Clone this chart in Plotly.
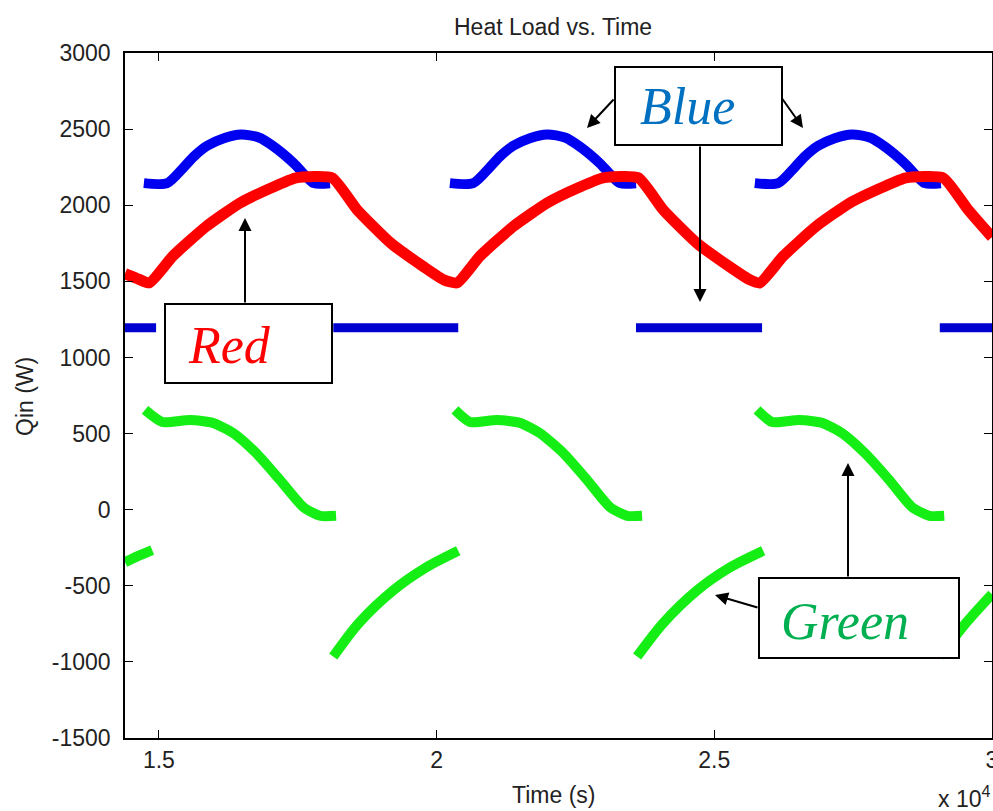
import plotly.graph_objects as go

# ---------------- data ----------------
x_tick_vals = [15000, 20000, 25000, 30000]
x_tick_text = ["1.5", "2", "2.5", "3"]
y_tick_vals = [-1500, -1000, -500, 0, 500, 1000, 1500, 2000, 2500, 3000]
y_tick_text = ["-1500", "-1000", "-500", "0", "500", "1000", "1500", "2000", "2500", "3000"]

# Blue (upper arcs)
blue_up_t1 = [14730, 15150, 15450, 15630, 15870, 16170, 16480, 16800, 17070, 17430, 17650, 17790, 18080]
blue_up_t2 = [20240, 20660, 20960, 21140, 21380, 21680, 21990, 22310, 22580, 22940, 23160, 23300, 23590]
blue_up_t3 = [25730, 26150, 26450, 26630, 26870, 27170, 27480, 27800, 28070, 28430, 28650, 28790, 29080]
blue_up_q = [2145, 2145, 2250, 2320, 2390, 2440, 2465, 2445, 2385, 2275, 2190, 2145, 2145]

# Blue (lower flat segments)
blue_lo_t = [[14390, 14950], [18140, 20390], [23590, 25860], [29060, 30000]]
blue_lo_q = [[1195, 1195], [1195, 1195], [1195, 1195], [1195, 1195]]

# Red (continuous)
red_t = [14390, 14600, 14830, 15250, 15850, 16460, 17060, 17470, 18120, 18570, 19180, 19770,
         20130, 20370, 20780, 21380, 21990, 22580, 23000, 23630, 24080, 24690, 25280, 25640,
         25820, 26240, 26830, 27440, 28040, 28450, 29120, 29570, 30000]
red_q = [1550, 1520, 1490, 1665, 1860, 2015, 2120, 2180, 2180, 1970, 1750, 1595,
         1510, 1490, 1665, 1860, 2015, 2120, 2180, 2180, 1970, 1750, 1595, 1510,
         1490, 1665, 1860, 2015, 2120, 2180, 2180, 1970, 1790]

# Green (upper arcs)
green_up_t1 = [14750, 15060, 15560, 15970, 16340, 16750, 17180, 17600, 17900, 18190]
green_up_t2 = [20330, 20600, 21090, 21500, 21860, 22280, 22710, 23120, 23430, 23700]
green_up_t3 = [25770, 26040, 26530, 26940, 27300, 27710, 28150, 28560, 28870, 29140]
green_up_q = [655, 576, 589, 570, 503, 372, 195, 17, -40, -40]

# Green (lower arcs)
green_lo_t0 = [14390, 14620, 14880]
green_lo_q0 = [-345, -305, -265]
green_lo_t1 = [18140, 18600, 19220, 19810, 20390]
green_lo_t2 = [23610, 24080, 24690, 25280, 25880]
green_lo_q = [-965, -745, -530, -380, -270]
green_lo_t3 = [29060, 29530, 30000]
green_lo_q3 = [-965, -745, -555]

# ---------------- figure ----------------
W, H = 993, 811
L, R, T, B = 125, 1, 53, 73
PW, PH = W - L - R, H - T - B


def px(x):
    return (x - L) / PW


def py(y):
    return (H - B - y) / PH


def join(segs_t, segs_q):
    xs, ys = [], []
    for t, q in zip(segs_t, segs_q):
        xs += list(t) + [None]
        ys += list(q) + [None]
    return xs, ys


BLUE = "#0000f0"
RED = "#ff0000"
GREEN = "#14ee14"

fig = go.Figure()

bx, by = join([blue_up_t1, blue_up_t2, blue_up_t3], [blue_up_q] * 3)
fig.add_trace(go.Scatter(x=bx, y=by, mode="lines", hoverinfo="skip",
                         line=dict(color=BLUE, width=10, shape="spline", smoothing=0.7)))
bx, by = join(blue_lo_t, blue_lo_q)
fig.add_trace(go.Scatter(x=bx, y=by, mode="lines", hoverinfo="skip",
                         line=dict(color="#0000d0", width=9)))
fig.add_trace(go.Scatter(x=red_t, y=red_q, mode="lines", hoverinfo="skip",
                         line=dict(color=RED, width=11, shape="spline", smoothing=0.5)))
gx, gy = join([green_up_t1, green_up_t2, green_up_t3], [green_up_q] * 3)
fig.add_trace(go.Scatter(x=gx, y=gy, mode="lines", hoverinfo="skip",
                         line=dict(color=GREEN, width=10, shape="spline", smoothing=0.6)))
gx, gy = join([green_lo_t0, green_lo_t1, green_lo_t2, green_lo_t3],
              [green_lo_q0, green_lo_q, green_lo_q, green_lo_q3])
fig.add_trace(go.Scatter(x=gx, y=gy, mode="lines", hoverinfo="skip",
                         line=dict(color=GREEN, width=10, shape="spline", smoothing=0.8)))

TXT = "#222222"
FONT = "Liberation Sans, Arial, sans-serif"

axis_common = dict(showline=True, linecolor="black", linewidth=1.6, mirror="ticks",
                   ticks="inside", ticklen=8, tickwidth=1.4, tickcolor="black",
                   showgrid=False, zeroline=False,
                   tickfont=dict(family=FONT, size=23, color=TXT))

fig.update_xaxes(range=[14390, 30000], tickvals=x_tick_vals, ticktext=x_tick_text,
                 ticklabeloverflow="allow", ticklabelstandoff=1, **axis_common)
fig.update_yaxes(range=[-1500, 3000], tickvals=y_tick_vals, ticktext=y_tick_text,
                 ticklabelstandoff=8, **axis_common)

annotations = [
    dict(text="Heat Load vs. Time", x=px(553), y=py(27)),
    dict(text="Qin (W)", x=px(25), y=py(397), textangle=-90),
    dict(text="Time (s)", x=px(553), y=py(795)),
    dict(text="x 10<sup>4</sup>", x=px(992), y=py(797), xanchor="right"),
]
anns = []
for a in annotations:
    d = dict(xref="paper", yref="paper", showarrow=False,
             font=dict(family=FONT, size=23, color=TXT), xanchor="center", yanchor="middle")
    d.update(a)
    anns.append(d)

# boxes
boxes = [
    (615, 67, 782, 145),   # Blue
    (165, 304, 332, 383),  # Red
    (759, 578, 959, 658),  # Green
]
shapes = []
for (x0, y0, x1, y1) in boxes:
    shapes.append(dict(type="rect", xref="paper", yref="paper",
                       x0=px(x0), x1=px(x1), y0=py(y1), y1=py(y0),
                       fillcolor="white", line=dict(color="black", width=2), layer="above"))

SERIF = "Liberation Serif, Times New Roman, serif"
box_texts = [
    ("<i>Blue</i>", 687, 107, "#0070C0"),
    ("<i>Red</i>", 229, 345, "#ff0000"),
    ("<i>Green</i>", 845, 621, "#00B050"),
]
for t, x, y, c in box_texts:
    anns.append(dict(text=t, x=px(x), y=py(y), xref="paper", yref="paper", showarrow=False,
                     xanchor="center", yanchor="middle",
                     font=dict(family=SERIF, size=52, color=c)))

# arrows: (tail_x, tail_y, tip_x, tip_y) in pixels
arrows = [
    (615, 98, 587, 128),
    (781, 97, 803, 128),
    (700, 145, 700, 302),
    (245, 304, 245, 218),
    (759, 608, 715, 595),
    (848, 578, 848, 463),
]
for tx, ty, hx, hy in arrows:
    anns.append(dict(text="", x=px(hx), y=py(hy), xref="paper", yref="paper",
                     ax=tx - hx, ay=ty - hy, axref="pixel", ayref="pixel",
                     showarrow=True, arrowhead=2, arrowsize=1.3, arrowwidth=2,
                     arrowcolor="black", standoff=0, startstandoff=0))

fig.update_layout(width=W, height=H, margin=dict(l=L, r=R, t=T, b=B, autoexpand=False),
                  paper_bgcolor="white", plot_bgcolor="white", showlegend=False,
                  annotations=anns, shapes=shapes)

fig.write_html("out.html")
